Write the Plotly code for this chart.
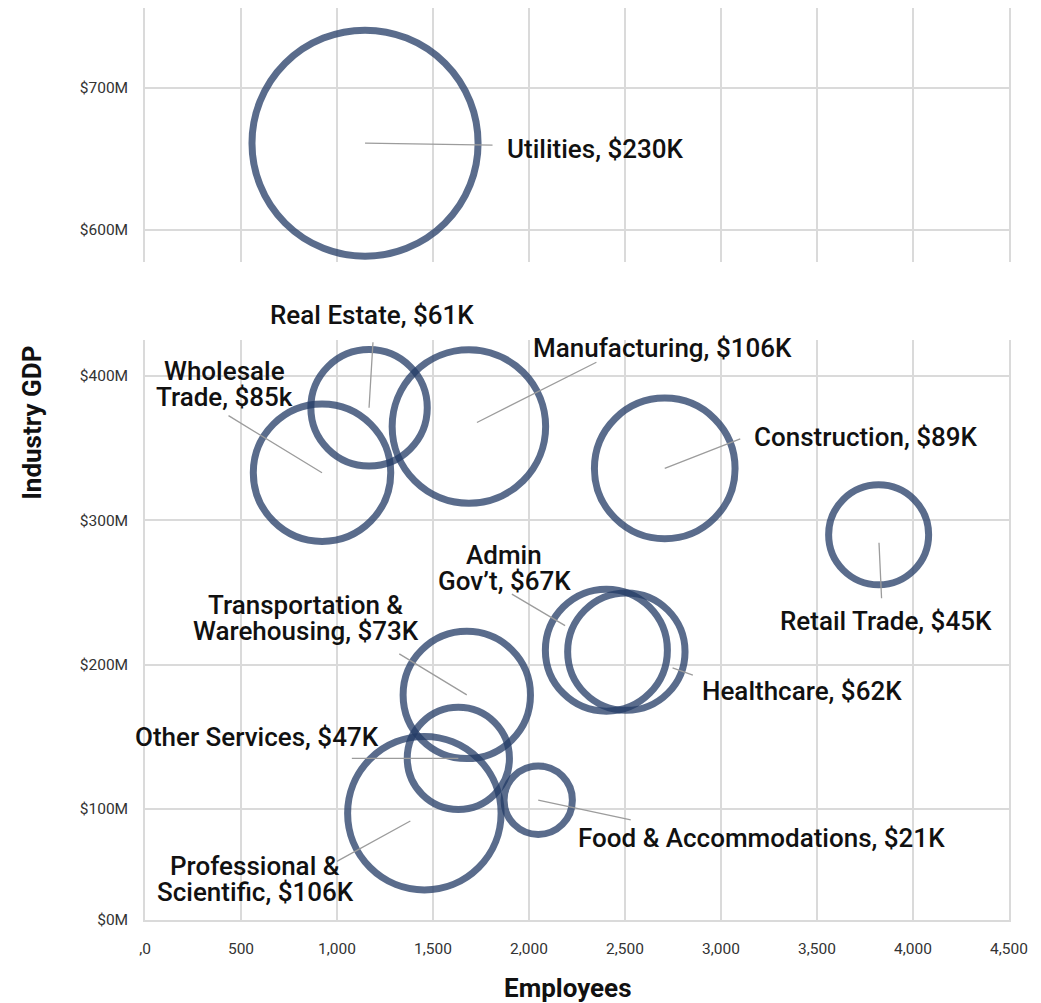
import plotly.graph_objects as go

# industries, employees, GDP ($M) and average wage ($K, drives bubble area)
industries = ["Utilities", "Real Estate", "Wholesale Trade", "Manufacturing", "Construction",
              "Retail Trade", "Admin Gov't", "Healthcare", "Transportation & Warehousing",
              "Other Services", "Professional & Scientific", "Food & Accommodations"]
employees = [1146, 1167, 922, 1687, 2707, 3821, 2403, 2507, 1676, 1632, 1455, 2048]
gdp_m = [661, 378, 333, 365, 336, 290, 210, 209, 179, 135, 97, 106]
wage_k = [230, 61, 85, 106, 89, 45, 67, 62, 73, 47, 106, 21]
labels = [["Utilities, $230K"], ["Real Estate, $61K"], ["Wholesale", "Trade, $85k"],
          ["Manufacturing, $106K"], ["Construction, $89K"], ["Retail Trade, $45K"],
          ["Admin", "Gov\u2019t, $67K"], ["Healthcare, $62K"], ["Transportation &", "Warehousing, $73K"],
          ["Other Services, $47K"], ["Professional &", "Scientific, $106K"],
          ["Food & Accommodations, $21K"]]

x_ticks = [0, 500, 1000, 1500, 2000, 2500, 3000, 3500, 4000, 4500]
x_ticktext = [",0", "500", "1,000", "1,500", "2,000", "2,500", "3,000", "3,500", "4,000", "4,500"]
y_low_ticks = [23, 100, 200, 300, 400]
y_low_text = ["$0M", "$100M", "$200M", "$300M", "$400M"]
y_high_ticks = [600, 700]
y_high_text = ["$600M", "$700M"]
BREAK = 500  # values above go into the upper panel

# label placement (px offsets from bubble centre, +dy = down) and leader lines
placement = [
    dict(dx=140, dy=6, anchor="left", tx=129, ty=2, so=0),
    dict(dx=3, dy=-93, anchor="center", tx=4, ty=-67, so=0),
    dict(dx=-98, dy=-89, anchor="center", tx=-95, ty=-58, so=0),
    dict(dx=62, dy=-79, anchor="left", tx=129, ty=-65, so=9),
    dict(dx=87, dy=-31, anchor="left", tx=77, ty=-30, so=0),
    dict(dx=7, dy=86, anchor="center", tx=3, ty=65, so=8),
    dict(dx=-102, dy=-82, anchor="center", tx=-96, ty=-57, so=48),
    dict(dx=74, dy=39, anchor="left", tx=68, ty=24, so=49),
    dict(dx=-161, dy=-77, anchor="center", tx=-69, ty=-42, so=0),
    dict(dx=-201, dy=-21, anchor="center", tx=-108, ty=0, so=0),
    dict(dx=-169, dy=66, anchor="center", tx=-89, ty=49, so=16),
    dict(dx=38, dy=38, anchor="left", tx=94, ty=20, so=0),
]

FONT = "Roboto"
GRID = "#dadada"
RING = "rgba(35,59,102,0.75)"
LINE_PITCH = 26

fig = go.Figure()

marker = dict(color="rgba(0,0,0,0)", sizemode="area", sizeref=0.009, opacity=1,
              line=dict(color=RING, width=7))
for upper in (True, False):
    idx = [i for i in range(len(industries)) if (gdp_m[i] > BREAK) == upper]
    fig.add_trace(go.Scatter(
        x=[employees[i] for i in idx], y=[gdp_m[i] for i in idx],
        mode="markers", text=[industries[i] for i in idx],
        marker=dict(marker, size=[wage_k[i] for i in idx]),
        xaxis="x2" if upper else "x", yaxis="y2" if upper else "y",
        hoverinfo="text", showlegend=False))

annotations = []
for i, p in enumerate(placement):
    xr, yr = ("x2", "y2") if gdp_m[i] > BREAK else ("x", "y")
    annotations.append(dict(x=employees[i], y=gdp_m[i], xref=xr, yref=yr, text="",
                            showarrow=True, arrowhead=0, arrowwidth=1.3, arrowcolor="#9c9c9c",
                            ax=p["tx"], ay=p["ty"], standoff=p["so"]))
    lines = labels[i]
    n = len(lines)
    for k, line in enumerate(lines):
        off = (k - (n - 1) / 2) * LINE_PITCH
        annotations.append(dict(x=employees[i], y=gdp_m[i], xref=xr, yref=yr, text=line,
                                showarrow=False, xanchor=p["anchor"], yanchor="middle",
                                xshift=p["dx"], yshift=-(p["dy"] + off),
                                font=dict(family=FONT, size=26, color="#111111", weight=500)))

annotations.append(dict(text="<b>Industry GDP</b>", xref="paper", yref="paper", x=-0.131, y=0.545,
                        xanchor="center", yanchor="middle", textangle=-90, showarrow=False,
                        font=dict(family=FONT, size=26, color="#111111")))
annotations.append(dict(text="<b>Employees</b>", xref="paper", yref="paper", x=0.4896, y=-0.0745,
                        xanchor="center", yanchor="middle", showarrow=False,
                        font=dict(family=FONT, size=26, color="#111111")))

axis_common = dict(showgrid=True, gridcolor=GRID, gridwidth=1.5, zeroline=False,
                   showline=True, linecolor=GRID, linewidth=1.5,
                   tickfont=dict(family=FONT, size=15.5, color="#333333"), ticks="")

fig.update_layout(
    width=1041, height=1003,
    margin=dict(l=137, r=40, t=0, b=91),
    paper_bgcolor="white", plot_bgcolor="white",
    font=dict(family=FONT),
    xaxis=dict(axis_common, domain=[0, 1], anchor="y", range=[0, 4500],
               tickvals=x_ticks, ticktext=x_ticktext, ticklabelstandoff=14),
    yaxis=dict(axis_common, domain=[0, 0.636], anchor="x", range=[23, 425],
               tickvals=y_low_ticks, ticktext=y_low_text, mirror=True, ticklabelstandoff=12),
    xaxis2=dict(axis_common, domain=[0, 1], anchor="y2", range=[0, 4500], matches="x",
                tickvals=x_ticks, showticklabels=False, showline=False),
    yaxis2=dict(axis_common, domain=[0.7215, 1], anchor="x2", range=[577.5, 756],
                tickvals=y_high_ticks, ticktext=y_high_text, mirror=True, ticklabelstandoff=12),
    annotations=annotations,
)

fig.write_html("out.html")
